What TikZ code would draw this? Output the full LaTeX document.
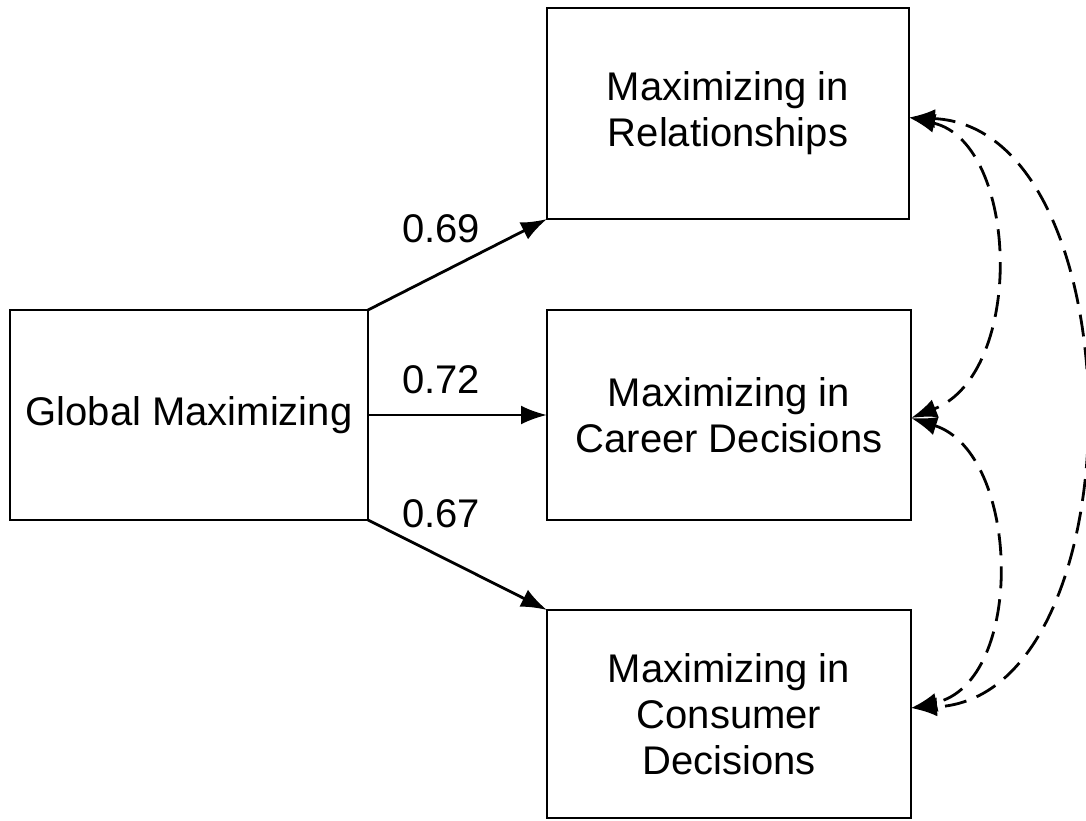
\documentclass[tikz,border=0pt]{standalone}
\usepackage{fontspec}
\setmainfont{Liberation Sans}
\usetikzlibrary{arrows.meta}
\begin{document}
\begin{tikzpicture}[x=1pt,y=-1pt,
  box/.style={draw,line width=2.8pt,outer sep=0pt,align=center,inner sep=0pt,
    font=\fontsize{40}{46}\selectfont},
  path/.style={line width=2.8pt,-{Latex[length=26pt,width=19pt]}},
  cov/.style={line width=2.8pt,dash pattern=on 22pt off 11pt,
    {Latex[length=26pt,width=19pt]}-{Latex[length=26pt,width=19pt]}},
  coef/.style={font=\fontsize{40}{46}\selectfont}]
\useasboundingbox (0,0) rectangle (1086,820);

% latent factor and the three domain boxes
\node[box,minimum width=358pt,minimum height=210pt] (glob) at (189,415) {Global Maximizing};
\node[box,minimum width=362pt,minimum height=211pt] (rel) at (728,113.5) {Maximizing in\\Relationships};
\node[box,minimum width=364pt,minimum height=210pt] (car) at (729,415) {Maximizing in\\Career Decisions};
\node[box,minimum width=364pt,minimum height=208pt] (con) at (729,714) {Maximizing in\\Consumer\\Decisions};

% loadings
\draw[path] (glob.north east) -- (rel.south west);
\draw[path] (glob.east) -- (car.west);
\draw[path] (glob.south east) -- (con.north west);
\node[coef] (l69) at (441,229) {0.69};
\node[coef] (l72) at (441,380) {0.72};
\node[coef] (l67) at (441,514) {0.67};

% residual correlations
\coordinate (relR) at ([yshift=-4pt]rel.east);
\coordinate (carR) at ([yshift=-3pt]car.east);
\coordinate (conR) at ([yshift=6pt]con.east);
\draw[cov] (relR) .. controls +(110,25) and +(115,-45) .. (carR);
\draw[cov] (carR) .. controls +(110,35) and +(115,-25) .. (conR);
\draw[cov] (relR) .. controls +(230,10) and +(230,-10) .. (conR);
\end{tikzpicture}
\end{document}
